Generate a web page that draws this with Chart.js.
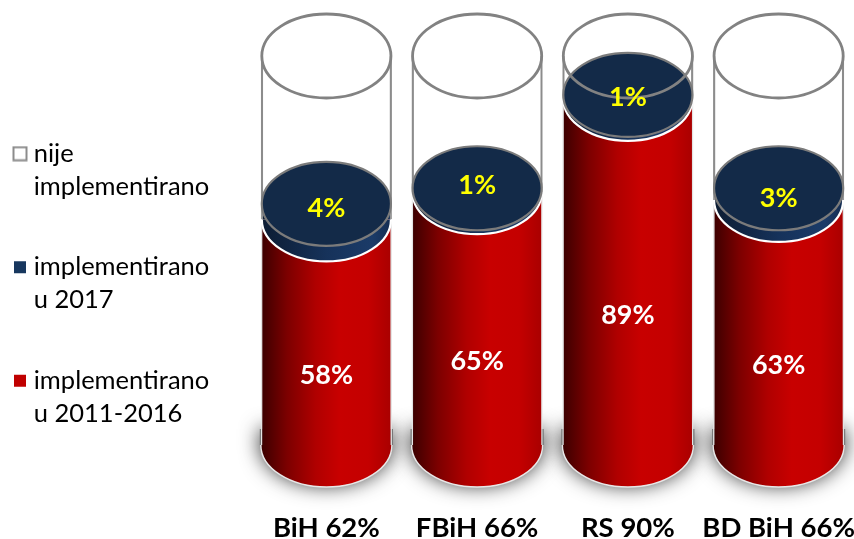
<!DOCTYPE html>
<html><head><meta charset="utf-8">
<style>html,body{margin:0;padding:0;background:#fff}#w{width:854px;height:539px;position:relative}</style>
<script src="https://cdn.jsdelivr.net/npm/chart.js@4"></script>
</head><body><div id="w"><canvas id="c" width="854" height="539"></canvas></div>
<script>
const categories = ['BiH 62%', 'FBiH 66%', 'RS 90%', 'BD BiH 66%'];
const implemented1116 = [58, 65, 89, 63];
const implemented2017 = [4, 1, 1, 3];
const notImplemented = [38, 34, 10, 34];
const legendNames = [['nije', 'implementirano'], ['implementirano', 'u 2017'], ['implementirano', 'u 2011-2016']];

const FONT = 'Lato, Carlito, sans-serif';
const RY = 42;
const navyNudge = [-3, -5, 0, 4];

function band(chart, i) {
  const sx = chart.scales.x, w = (sx.right - sx.left) / categories.length * 0.87;
  const cx = sx.getPixelForValue(i);
  return {cx, rx: w / 2, left: cx - w / 2, right: cx + w / 2};
}
function redGrad(chart, i) {
  if (!chart.chartArea) return '#c00000';
  const b = band(chart, i);
  const g = chart.ctx.createLinearGradient(b.left, 0, b.right, 0);
  g.addColorStop(0, '#3a0000'); g.addColorStop(0.2, '#7c0000'); g.addColorStop(0.42, '#b00000');
  g.addColorStop(0.6, '#c80000'); g.addColorStop(0.82, '#c40000'); g.addColorStop(1, '#a80000');
  return g;
}
function navyGrad(chart, i) {
  if (!chart.chartArea) return '#17375e';
  const b = band(chart, i);
  const g = chart.ctx.createLinearGradient(b.left, 0, b.right, 0);
  g.addColorStop(0, '#0c1c32'); g.addColorStop(0.5, '#16325a'); g.addColorStop(0.85, '#1b3b68'); g.addColorStop(1, '#142c50');
  return g;
}
function ell(ctx, cx, cy, rx, ry, a0, a1) { ctx.beginPath(); ctx.ellipse(cx, cy, rx, ry, 0, a0 === undefined ? 0 : a0, a1 === undefined ? Math.PI * 2 : a1); }
function swatch(fill, stroke, side) {
  const cv = document.createElement('canvas');
  cv.width = 16; cv.height = 16;
  const c = cv.getContext('2d');
  const o = (16 - side) / 2;
  c.fillStyle = fill; c.fillRect(o, o, side, side);
  if (stroke) { c.strokeStyle = stroke; c.lineWidth = 2; c.strokeRect(o, o, side, side); }
  return cv;
}

const cylinderPlugin = {
  id: 'cylinder',
  afterLayout(chart) {
    const lg = chart.legend;
    lg.left = -28.5; lg.right = 245; lg.top = 93.5; lg.bottom = 539;
  },
  beforeDatasetsDraw(chart) {
    const ctx = chart.ctx, sy = chart.scales.y, y0 = sy.getPixelForValue(0);
    categories.forEach((_, i) => {
      const b = band(chart, i);
      ctx.save();
      ctx.shadowColor = 'rgba(0,0,0,0.8)'; ctx.shadowBlur = 20;
      ctx.fillStyle = '#777';
      ell(ctx, b.cx, y0 - 1, b.rx + 1, RY, 0, Math.PI);
      ctx.rect(b.left - 1, y0 - 16, b.rx * 2 + 2, 16);
      ctx.fill();
      ctx.restore();
      ell(ctx, b.cx, y0, b.rx, RY, 0, Math.PI);
      ctx.fillStyle = redGrad(chart, i); ctx.fill();
      ctx.strokeStyle = '#e8e8e8'; ctx.lineWidth = 1.5; ctx.stroke();
    });
  },
  afterDatasetsDraw(chart) {
    const ctx = chart.ctx, sy = chart.scales.y;
    categories.forEach((_, i) => {
      const b = band(chart, i);
      const yRed = sy.getPixelForValue(implemented1116[i]);
      const yNavy = sy.getPixelForValue(implemented1116[i] + implemented2017[i]);
      const yTop = sy.getPixelForValue(100);
      const rx = b.rx - 1;
      // navy lower curve over red
      ell(ctx, b.cx, yRed, rx, RY, 0, Math.PI);
      ctx.fillStyle = navyGrad(chart, i); ctx.fill();
      ctx.strokeStyle = '#ffffff'; ctx.lineWidth = 2.2; ctx.stroke();
      // navy top
      ell(ctx, b.cx, yNavy, rx, RY);
      ctx.fillStyle = '#132a48'; ctx.fill();
      ctx.strokeStyle = '#7b7b7b'; ctx.lineWidth = 2.2; ctx.stroke();
      // glass rim
      ell(ctx, b.cx, yTop, rx, RY);
      ctx.strokeStyle = '#828282'; ctx.lineWidth = 2.8; ctx.stroke();
      // value labels
      ctx.textAlign = 'center'; ctx.textBaseline = 'middle';
      ctx.font = 'bold 27px ' + FONT;
      ctx.fillStyle = '#ffffff';
      const y0 = sy.getPixelForValue(0);
      ctx.fillText(implemented1116[i] + '%', b.cx, (y0 + yRed) / 2 + RY + 1);
      ctx.fillStyle = '#ffff00';
      ctx.fillText(implemented2017[i] + '%', b.cx, (yRed + yNavy) / 2 + navyNudge[i]);
    });
  }
};

new Chart(document.getElementById('c'), {
  type: 'bar',
  plugins: [cylinderPlugin],
  data: {
    labels: categories,
    datasets: [
      {label: 'implementirano u 2011-2016', data: implemented1116, stack: 's', backgroundColor: c => redGrad(c.chart, c.dataIndex), borderColor: '#e4e4e4', borderWidth: {left: 1.5, right: 1.5, top: 0, bottom: 0}, borderSkipped: false},
      {label: 'implementirano u 2017', data: implemented2017, stack: 's', backgroundColor: c => navyGrad(c.chart, c.dataIndex), borderColor: '#9a9a9a', borderWidth: {left: 2, right: 2, top: 0, bottom: 0}, borderSkipped: false},
      {label: 'nije implementirano', data: notImplemented, stack: 's', backgroundColor: '#ffffff', borderColor: '#8c8c8c', borderWidth: {left: 2.4, right: 2.4, top: 0, bottom: 0}, borderSkipped: false}
    ]
  },
  options: {
    responsive: false, animation: false, devicePixelRatio: 1,
    layout: {autoPadding: false, padding: {top: 56, left: 0, right: 0, bottom: 0}},
    datasets: {bar: {categoryPercentage: 1, barPercentage: 0.87}},
    scales: {
      x: {stacked: true, grid: {display: false, tickLength: 0}, border: {display: false},
          ticks: {padding: 66.5, color: '#000', maxRotation: 0, autoSkip: false, font: {family: FONT, weight: 'bold', size: 27.5}},
          afterFit(s) { s.height = 94; s.paddingLeft = 0; s.paddingRight = 0; }},
      y: {stacked: true, min: 0, max: 100, grid: {display: false}, border: {display: false},
          ticks: {display: false},
          afterFit(s) { s.width = 251 - s.chart.legend.width; s.paddingTop = 0; s.paddingBottom = 0; }}
    },
    plugins: {
      tooltip: {enabled: false},
      legend: {
        position: 'left', align: 'start',
        labels: {
          padding: 47.5, usePointStyle: true, boxWidth: 2, boxHeight: 14, color: '#1a1a1a',
          font: {family: FONT, size: 25.5, lineHeight: 33 / 25.5},
          generateLabels: () => [
            {text: legendNames[0], fillStyle: '#fff', strokeStyle: '#fff', lineWidth: 0, pointStyle: swatch('#ffffff', '#8c8c8c', 13), datasetIndex: 2},
            {text: legendNames[1], fillStyle: '#17375e', strokeStyle: '#17375e', lineWidth: 0, pointStyle: swatch('#17375e', null, 12), datasetIndex: 1},
            {text: legendNames[2], fillStyle: '#c00000', strokeStyle: '#c00000', lineWidth: 0, pointStyle: swatch('#c00000', null, 12), datasetIndex: 0}
          ]
        }
      }
    }
  }
});
</script></body></html>
